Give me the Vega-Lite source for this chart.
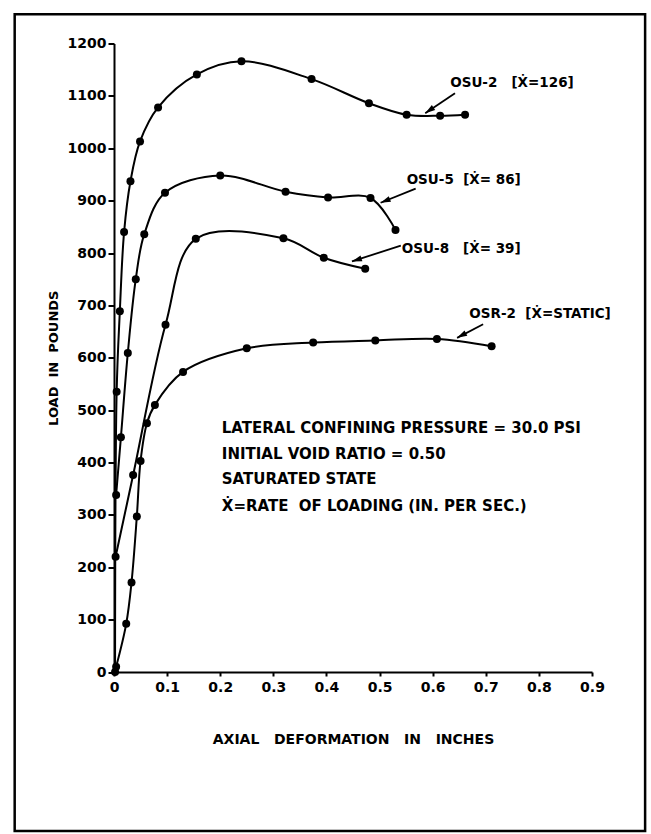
{
  "$schema": "https://vega.github.io/schema/vega-lite/v6.json",
  "width": 478,
  "height": 628.5,
  "autosize": {"type": "none"},
  "padding": {"left": 114, "top": 43.5, "right": 59, "bottom": 162},
  "background": "white",
  "config": {
    "view": {"stroke": null},
    "font": "DejaVu Sans",
    "axis": {
      "domainColor": "black", "domainWidth": 2, "tickColor": "black", "tickWidth": 2,
      "labelColor": "black", "labelFont": "DejaVu Sans", "labelFontWeight": "bold", "labelFontSize": 14,
      "titleColor": "black", "titleFont": "DejaVu Sans", "titleFontWeight": "bold", "titleFontSize": 14,
      "grid": false
    }
  },
  "datasets": {
    "curves": [
      {"series": "OSU-2", "x": 0.002, "y": 0},
      {"series": "OSU-2", "x": 0.005, "y": 535},
      {"series": "OSU-2", "x": 0.011, "y": 689},
      {"series": "OSU-2", "x": 0.019, "y": 840},
      {"series": "OSU-2", "x": 0.031, "y": 937},
      {"series": "OSU-2", "x": 0.049, "y": 1013},
      {"series": "OSU-2", "x": 0.083, "y": 1078},
      {"series": "OSU-2", "x": 0.156, "y": 1141},
      {"series": "OSU-2", "x": 0.240, "y": 1166},
      {"series": "OSU-2", "x": 0.372, "y": 1132},
      {"series": "OSU-2", "x": 0.480, "y": 1086},
      {"series": "OSU-2", "x": 0.551, "y": 1064},
      {"series": "OSU-2", "x": 0.614, "y": 1062},
      {"series": "OSU-2", "x": 0.661, "y": 1064},
      {"series": "OSU-5", "x": 0.004, "y": 338},
      {"series": "OSU-5", "x": 0.013, "y": 448},
      {"series": "OSU-5", "x": 0.026, "y": 609},
      {"series": "OSU-5", "x": 0.041, "y": 750},
      {"series": "OSU-5", "x": 0.057, "y": 836},
      {"series": "OSU-5", "x": 0.096, "y": 915},
      {"series": "OSU-5", "x": 0.200, "y": 948},
      {"series": "OSU-5", "x": 0.323, "y": 917},
      {"series": "OSU-5", "x": 0.403, "y": 906},
      {"series": "OSU-5", "x": 0.483, "y": 905},
      {"series": "OSU-5", "x": 0.530, "y": 844},
      {"series": "OSU-8", "x": 0.003, "y": 220},
      {"series": "OSU-8", "x": 0.036, "y": 376},
      {"series": "OSU-8", "x": 0.097, "y": 663},
      {"series": "OSU-8", "x": 0.154, "y": 827},
      {"series": "OSU-8", "x": 0.319, "y": 828},
      {"series": "OSU-8", "x": 0.395, "y": 791},
      {"series": "OSU-8", "x": 0.473, "y": 770},
      {"series": "OSR-2", "x": 0.004, "y": 10},
      {"series": "OSR-2", "x": 0.023, "y": 92},
      {"series": "OSR-2", "x": 0.033, "y": 171},
      {"series": "OSR-2", "x": 0.043, "y": 297},
      {"series": "OSR-2", "x": 0.050, "y": 403},
      {"series": "OSR-2", "x": 0.062, "y": 475},
      {"series": "OSR-2", "x": 0.077, "y": 510},
      {"series": "OSR-2", "x": 0.130, "y": 573},
      {"series": "OSR-2", "x": 0.250, "y": 618},
      {"series": "OSR-2", "x": 0.375, "y": 629},
      {"series": "OSR-2", "x": 0.492, "y": 633},
      {"series": "OSR-2", "x": 0.608, "y": 636},
      {"series": "OSR-2", "x": 0.711, "y": 622}
    ],
    "arrows": [
      {"name": "OSU-2", "x": 0.642, "y": 1105, "x2": 0.586, "y2": 1067},
      {"name": "OSU-5", "x": 0.568, "y": 923, "x2": 0.502, "y2": 896},
      {"name": "OSU-8", "x": 0.540, "y": 814, "x2": 0.448, "y2": 784},
      {"name": "OSR-2", "x": 0.695, "y": 664, "x2": 0.646, "y2": 638}
    ],
    "labels": [
      {"x": 0.633, "y": 1125, "text": "OSU-2\u00a0\u00a0\u00a0[Ẋ=126]"},
      {"x": 0.551, "y": 939, "text": "OSU-5\u00a0\u00a0[Ẋ=\u00a086]"},
      {"x": 0.542, "y": 808, "text": "OSU-8\u00a0\u00a0\u00a0[Ẋ=\u00a039]"},
      {"x": 0.669, "y": 684, "text": "OSR-2\u00a0\u00a0[Ẋ=STATIC]"}
    ],
    "notes": [
      {"x": 0.203, "y": 466, "text": "LATERAL CONFINING PRESSURE = 30.0 PSI"},
      {"x": 0.203, "y": 416, "text": "INITIAL VOID RATIO = 0.50"},
      {"x": 0.203, "y": 368, "text": "SATURATED STATE"},
      {"x": 0.203, "y": 316, "text": "Ẋ=RATE\u00a0\u00a0OF LOADING (IN. PER SEC.)"}
    ],
    "frame": [
      {"x": -0.187, "y": 1256, "x2": 1.0, "y2": -303.6}
    ]
  },
  "encoding": {
    "x": {
      "field": "x", "type": "quantitative",
      "scale": {"domain": [0, 0.9], "nice": false, "zero": false},
      "axis": {
        "values": [0, 0.1, 0.2, 0.3, 0.4, 0.5, 0.6, 0.7, 0.8, 0.9],
        "format": ".1~f", "labelFlush": false, "tickSize": 4, "labelPadding": 4,
        "title": "AXIAL\u00a0\u00a0\u00a0DEFORMATION\u00a0\u00a0\u00a0IN\u00a0\u00a0\u00a0INCHES", "titlePadding": 38
      }
    },
    "y": {
      "field": "y", "type": "quantitative",
      "scale": {"domain": [0, 1200], "nice": false, "zero": false},
      "axis": {
        "values": [0, 100, 200, 300, 400, 500, 600, 700, 800, 900, 1000, 1100, 1200],
        "format": "d", "tickSize": 6, "labelPadding": 2,
        "title": "LOAD\u00a0\u00a0IN\u00a0\u00a0POUNDS", "titleFontSize": 13, "titlePadding": 7
      }
    }
  },
  "layer": [
    {
      "data": {"name": "frame"},
      "mark": {"type": "rect", "fill": "transparent", "stroke": "black", "strokeWidth": 2.5},
      "encoding": {"x2": {"field": "x2"}, "y2": {"field": "y2"}}
    },
    {
      "data": {"name": "curves"},
      "mark": {"type": "line", "interpolate": "catmull-rom", "color": "black", "strokeWidth": 2},
      "encoding": {"detail": {"field": "series"}}
    },
    {
      "data": {"name": "curves"},
      "mark": {"type": "circle", "size": 64, "color": "black", "opacity": 1}
    },
    {
      "data": {"name": "arrows"},
      "mark": {"type": "rule", "color": "black", "strokeWidth": 1.8},
      "encoding": {"x2": {"field": "x2"}, "y2": {"field": "y2"}}
    },
    {
      "data": {"name": "arrows"},
      "transform": [{"filter": "datum.name == 'OSU-2'"}],
      "mark": {"type": "point", "shape": "M0,0L0.3,1L-0.3,1Z", "filled": true, "color": "black", "opacity": 1, "size": 400, "angle": 236},
      "encoding": {"x": {"field": "x2", "type": "quantitative"}, "y": {"field": "y2", "type": "quantitative"}}
    },
    {
      "data": {"name": "arrows"},
      "transform": [{"filter": "datum.name == 'OSU-5'"}],
      "mark": {"type": "point", "shape": "M0,0L0.3,1L-0.3,1Z", "filled": true, "color": "black", "opacity": 1, "size": 400, "angle": 248},
      "encoding": {"x": {"field": "x2", "type": "quantitative"}, "y": {"field": "y2", "type": "quantitative"}}
    },
    {
      "data": {"name": "arrows"},
      "transform": [{"filter": "datum.name == 'OSU-8'"}],
      "mark": {"type": "point", "shape": "M0,0L0.3,1L-0.3,1Z", "filled": true, "color": "black", "opacity": 1, "size": 400, "angle": 252},
      "encoding": {"x": {"field": "x2", "type": "quantitative"}, "y": {"field": "y2", "type": "quantitative"}}
    },
    {
      "data": {"name": "arrows"},
      "transform": [{"filter": "datum.name == 'OSR-2'"}],
      "mark": {"type": "point", "shape": "M0,0L0.3,1L-0.3,1Z", "filled": true, "color": "black", "opacity": 1, "size": 400, "angle": 242},
      "encoding": {"x": {"field": "x2", "type": "quantitative"}, "y": {"field": "y2", "type": "quantitative"}}
    },
    {
      "data": {"name": "labels"},
      "mark": {"type": "text", "align": "left", "baseline": "middle", "font": "DejaVu Sans", "fontWeight": "bold", "fontSize": 13.5, "color": "black"},
      "encoding": {"text": {"field": "text"}}
    },
    {
      "data": {"name": "notes"},
      "mark": {"type": "text", "align": "left", "baseline": "middle", "font": "DejaVu Sans", "fontWeight": "bold", "fontSize": 15, "color": "black"},
      "encoding": {"text": {"field": "text"}}
    }
  ]
}
